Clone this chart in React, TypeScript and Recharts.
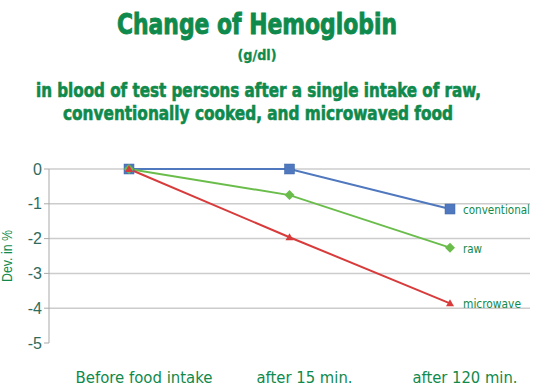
import React from "react";
import { LineChart, Line, XAxis, YAxis, ReferenceLine } from "recharts";

const categories = ["Before food intake", "after 15 min.", "after 120 min."];
const conventional = [0, 0, -1.15];
const raw = [0, -0.75, -2.26];
const microwave = [0, -1.96, -3.86];
const yTicks = [0, -1, -2, -3, -4, -5];
const gridValues = [0, -1, -2, -3, -4];
const seriesNames = ["conventional", "raw", "microwave"];
const tickWidths = [137, 96, 105];
const endLabelWidths = [67, 19, 58];

const data = categories.map((c, i) => ({
  name: c,
  conventional: conventional[i],
  raw: raw[i],
  microwave: microwave[i],
}));

const GREEN_TEXT = "#0f8a4c";
const BLUE = "#4f78be";
const GREEN = "#6abd4b";
const RED = "#d83b3b";

const SquareDot = (props: any) => {
  const { cx, cy } = props;
  if (cx == null || cy == null) return null;
  return <rect x={cx - 5} y={cy - 5} width={10} height={10} fill={BLUE} stroke="#3f66a8" strokeWidth={0.5} />;
};
const DiamondDot = (props: any) => {
  const { cx, cy } = props;
  if (cx == null || cy == null) return null;
  return <polygon points={`${cx},${cy - 5} ${cx + 5},${cy} ${cx},${cy + 5} ${cx - 5},${cy}`} fill={GREEN} />;
};
const TriangleDot = (props: any) => {
  const { cx, cy } = props;
  if (cx == null || cy == null) return null;
  return <polygon points={`${cx},${cy - 4} ${cx + 4},${cy + 3} ${cx - 4},${cy + 3}`} fill={RED} />;
};

const makeEndLabel = (idx: number) => (props: any) => {
  const { x, y, index } = props;
  if (index !== categories.length - 1) return null;
  return (
    <text
      x={x + 13}
      y={y + 5}
      fill={GREEN_TEXT}
      fontFamily="'DejaVu Sans Condensed', 'DejaVu Sans', sans-serif"
      fontSize={13}
      textLength={endLabelWidths[idx]}
      lengthAdjust="spacingAndGlyphs"
    >
      {seriesNames[idx]}
    </text>
  );
};

const XTick = (props: any) => {
  const { x, payload, index } = props;
  const w = tickWidths[index] ?? 100;
  return (
    <text
      x={x + 15}
      y={383}
      textAnchor="middle"
      fill={GREEN_TEXT}
      fontFamily="'DejaVu Sans Condensed', 'DejaVu Sans', sans-serif"
      fontSize={15}
      textLength={w}
      lengthAdjust="spacingAndGlyphs"
    >
      {payload.value}
    </text>
  );
};

export default function App() {
  return (
    <div style={{ position: "absolute", left: 0, top: 0, width: 551, height: 386, background: "#fff" }}>
      <svg width={551} height={130} style={{ position: "absolute", left: 0, top: 0 }}>
        <g fontFamily="'DejaVu Sans Condensed', 'DejaVu Sans', sans-serif" fontWeight="bold" fill={GREEN_TEXT} stroke={GREEN_TEXT} textAnchor="middle">
          <text x={257} y={34} fontSize={29} strokeWidth={0.9} textLength={280} lengthAdjust="spacingAndGlyphs">Change of Hemoglobin</text>
          <text x={257} y={60} fontSize={14} strokeWidth={0.3} textLength={39} lengthAdjust="spacingAndGlyphs">(g/dl)</text>
          <text x={258.5} y={97} fontSize={19} strokeWidth={0.6} textLength={445} lengthAdjust="spacingAndGlyphs">in blood of test persons after a single intake of raw,</text>
          <text x={258} y={120} fontSize={19} strokeWidth={0.6} textLength={390} lengthAdjust="spacingAndGlyphs">conventionally cooked, and microwaved food</text>
        </g>
      </svg>
      <svg width={30} height={386} style={{ position: "absolute", left: 0, top: 0 }}>
        <text
          x={0}
          y={0}
          transform="translate(12,256) rotate(-90)"
          textAnchor="middle"
          fill={GREEN_TEXT}
          fontFamily="'Liberation Sans', Arial, sans-serif"
          fontSize={14}
          textLength={52}
          lengthAdjust="spacingAndGlyphs"
        >
          Dev. in %
        </text>
      </svg>
      <div style={{ position: "absolute", left: 0, top: 0 }}>
        <LineChart width={551} height={386} data={data} margin={{ top: 169, right: 21, bottom: 13, left: 9 }}>
          {gridValues.map((v) => (
            <ReferenceLine key={v} y={v} stroke="#cccccc" strokeWidth={1.5} ifOverflow="extendDomain" />
          ))}
          <XAxis
            dataKey="name"
            axisLine={false}
            tickLine={false}
            padding={{ left: 80, right: 80 }}
            height={30}
            tick={<XTick />}
            interval={0}
          />
          <YAxis
            domain={[-5, 0]}
            ticks={yTicks}
            width={40}
            axisLine={{ stroke: "#a9a9a9", strokeWidth: 1 }}
            tickLine={{ stroke: "#a9a9a9" }}
            tickSize={5}
            tick={{ fill: "#2f6c5e", fontSize: 16, fontFamily: "'Liberation Sans', Arial, sans-serif" }}
            interval={0}
          />
          <Line
            dataKey="conventional"
            stroke={BLUE}
            strokeWidth={2}
            dot={<SquareDot />}
            activeDot={false}
            isAnimationActive={false}
            label={makeEndLabel(0)}
          />
          <Line
            dataKey="raw"
            stroke={GREEN}
            strokeWidth={2}
            dot={<DiamondDot />}
            activeDot={false}
            isAnimationActive={false}
            label={makeEndLabel(1)}
          />
          <Line
            dataKey="microwave"
            stroke={RED}
            strokeWidth={2}
            dot={<TriangleDot />}
            activeDot={false}
            isAnimationActive={false}
            label={makeEndLabel(2)}
          />
        </LineChart>
      </div>
    </div>
  );
}
